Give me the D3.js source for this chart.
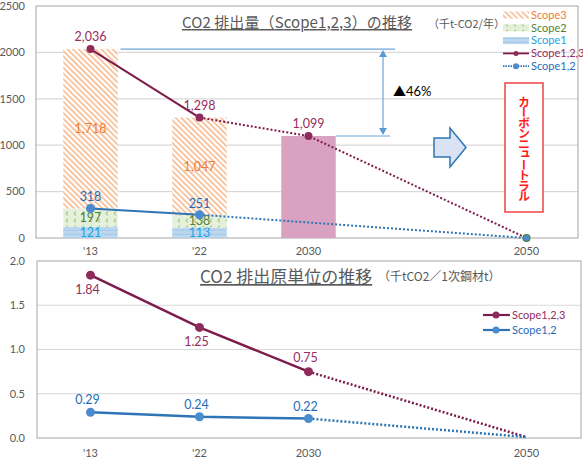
<!DOCTYPE html>
<html>
<head>
<meta charset="utf-8">
<script src="https://d3js.org/d3.v7.min.js"></script>
<style>
body { margin: 0; background: #fff; }
text { font-family: Lato, "Noto Sans CJK JP", sans-serif; }
.jp { font-family: "Noto Sans CJK JP", sans-serif; }
.tick { fill: #595959; font-size: 11px; }
</style>
</head>
<body>
<svg id="chart" width="583" height="459"></svg>
<script>
// emissions, 千t-CO2/年
var years = ["2013", "2022", "2030", "2040", "2050"];
var tickLabels = ["'13", "'22", "2030", "", "2050"];
var barYears = ["2013", "2022"];
var scope1 = [121, 113];
var scope2 = [197, 138];
var scope3 = [1718, 1047];
var target2030 = 1099;
var totalYears = ["2013", "2022", "2030", "2050"];
var total123 = [2036, 1298, 1099, 0];
var total12Years = ["2013", "2022", "2050"];
var total12 = [318, 251, 0];
var emissionTicks = [0, 500, 1000, 1500, 2000, 2500];

// intensity, 千tCO2／1次鋼材t
var intYears = ["2013", "2022", "2030", "2050"];
var intensity123 = [1.84, 1.25, 0.75, 0.01];
var intensity12 = [0.29, 0.24, 0.22, 0.01];
var intensityTicks = [0, 0.5, 1.0, 1.5, 2.0];

var MAROON = "#7d1b4b", MAROON_PT = "#8e2a5c", MAROON_TXT = "#962c60";
var BLUE = "#2e75b6", BLUE_PT = "#4a8bcd", BLUE_TXT = "#1f6cba";

var svg = d3.select("#chart");
var defs = svg.append("defs");

// bar fill patterns
var p3 = defs.append("pattern").attr("id", "hatch3").attr("width", 4).attr("height", 4)
  .attr("patternUnits", "userSpaceOnUse").attr("patternTransform", "rotate(-45)");
p3.append("rect").attr("width", 4).attr("height", 4).attr("fill", "#fff");
p3.append("rect").attr("width", 1.6).attr("height", 4).attr("fill", "#f6b98e");

var p2 = defs.append("pattern").attr("id", "hatch2").attr("width", 8).attr("height", 7)
  .attr("patternUnits", "userSpaceOnUse");
p2.append("rect").attr("width", 8).attr("height", 7).attr("fill", "#e6f1dc");
p2.append("path").attr("d", "M4,1.5 L2,3.5 L4,5.5").attr("fill", "none")
  .attr("stroke", "#a9d18e").attr("stroke-width", 1.2);

var p1 = defs.append("pattern").attr("id", "hatch1").attr("width", 6).attr("height", 4)
  .attr("patternUnits", "userSpaceOnUse");
p1.append("rect").attr("width", 6).attr("height", 4).attr("fill", "#bdd7ee");
p1.append("path").attr("d", "M0,3 L1.5,1.5 L3,3 L4.5,1.5 L6,3").attr("fill", "none")
  .attr("stroke", "#9dc3e6").attr("stroke-width", 0.9);

function drawLine(g, xs, ys, pts, solidTo, color, width) {
  var line = d3.line().x(function(d) { return xs(d[0]); }).y(function(d) { return ys(d[1]); });
  g.append("path").attr("d", line(pts.slice(0, solidTo + 1)))
    .attr("fill", "none").attr("stroke", color).attr("stroke-width", width);
  g.append("path").attr("d", line(pts.slice(solidTo)))
    .attr("fill", "none").attr("stroke", color).attr("stroke-width", width)
    .attr("stroke-dasharray", "2,2");
}

function zip(a, b) { return a.map(function(d, i) { return [d, b[i]]; }); }

/* ---------------- top chart ---------------- */
var x = d3.scaleBand().domain(years).range([36, 581]).paddingInner(0.5).paddingOuter(0.25);
var cx = function(d) { return x(d) + x.bandwidth() / 2; };
var y = d3.scaleLinear().domain([0, 2500]).range([238, 6]);
var gTop = svg.append("g");

gTop.selectAll(".grid").data(emissionTicks.slice(1, -1)).enter().append("line")
  .attr("x1", 36).attr("x2", 578).attr("y1", function(d) { return y(d); }).attr("y2", function(d) { return y(d); })
  .attr("stroke", "#d9d9d9").attr("stroke-width", 1.2);
gTop.append("rect").attr("x", 36).attr("y", 6).attr("width", 542).attr("height", 232)
  .attr("fill", "none").attr("stroke", "#a6a6a6");
gTop.selectAll(".yl").data(emissionTicks).enter().append("text").attr("class", "tick")
  .attr("x", 25).attr("y", function(d) { return y(d); }).attr("dy", "0.35em").attr("text-anchor", "end")
  .text(function(d) { return d; });
gTop.selectAll(".xl").data(years).enter().append("text").attr("class", "tick")
  .attr("x", cx).attr("y", 255).attr("text-anchor", "middle")
  .text(function(d, i) { return tickLabels[i]; });

// stacked bars
var rows = barYears.map(function(yr, i) { return { year: yr, s1: scope1[i], s2: scope2[i], s3: scope3[i] }; });
var stack = d3.stack().keys(["s1", "s2", "s3"])(rows);
var fills = { s1: "url(#hatch1)", s2: "url(#hatch2)", s3: "url(#hatch3)" };
var valColors = { s1: "#1aa3e8", s2: "#548235", s3: "#ed7d31" };
stack.forEach(function(layer) {
  gTop.selectAll(".b" + layer.key).data(layer).enter().append("rect")
    .attr("x", function(d) { return x(d.data.year); }).attr("width", x.bandwidth())
    .attr("y", function(d) { return y(d[1]); }).attr("height", function(d) { return y(d[0]) - y(d[1]); })
    .attr("fill", fills[layer.key]);
  gTop.selectAll(".v" + layer.key).data(layer).enter().append("text")
    .attr("x", function(d) { return cx(d.data.year); }).attr("y", function(d) { return y((d[0] + d[1]) / 2); })
    .attr("dy", "0.35em").attr("text-anchor", "middle").attr("font-size", 12.5)
    .attr("fill", valColors[layer.key]).text(function(d) { return d3.format(",")(d[1] - d[0]); });
});
gTop.append("rect").attr("x", x("2030")).attr("width", x.bandwidth())
  .attr("y", y(target2030)).attr("height", y(0) - y(target2030)).attr("fill", "#d9a2c0");

// reduction annotation
var ann = gTop.append("g").attr("stroke", "#6fa3d8").attr("stroke-width", 1.2);
ann.append("line").attr("x1", cx("2013") + 30).attr("x2", 395).attr("y1", y(total123[0])).attr("y2", y(total123[0]));
ann.append("line").attr("x1", x("2030") + x.bandwidth()).attr("x2", 390).attr("y1", y(target2030)).attr("y2", y(target2030));
ann.append("line").attr("x1", 383).attr("x2", 383).attr("y1", y(total123[0]) + 6).attr("y2", y(target2030) - 6);
gTop.append("path").attr("fill", "#5b9bd5")
  .attr("d", "M383," + (y(total123[0]) + 1) + " l-4,7 l8,0 z M383," + (y(target2030) - 1) + " l-4,-7 l8,0 z");
gTop.append("text").attr("x", 393).attr("y", 96).attr("font-size", 13).attr("fill", "#000").text("▲46%");

// block arrow
gTop.append("path").attr("d", "M434,138 L450,138 L450,128 L466,147.5 L450,167 L450,157 L434,157 Z")
  .attr("fill", "#dae3f3").attr("stroke", "#2e75b6").attr("stroke-width", 1.5);

// carbon neutral box
gTop.append("rect").attr("x", 505).attr("y", 83).attr("width", 38).attr("height", 129)
  .attr("fill", "#fff").attr("stroke", "#ee4444").attr("stroke-width", 1.5);
gTop.append("text").attr("class", "jp").attr("x", 524).attr("y", 96)
  .attr("writing-mode", "vertical-rl").attr("font-size", 12).attr("font-weight", "bold")
  .attr("fill", "#ff1a1a").attr("letter-spacing", -1.5).text("カーボンニュートラル");

// total lines
drawLine(gTop, cx, y, zip(totalYears, total123), 1, MAROON, 2);
drawLine(gTop, cx, y, zip(total12Years, total12), 1, BLUE, 2);
gTop.selectAll(".m123").data(zip(totalYears, total123).slice(0, 3)).enter().append("circle")
  .attr("cx", function(d) { return cx(d[0]); }).attr("cy", function(d) { return y(d[1]); })
  .attr("r", 4).attr("fill", MAROON_PT);
gTop.selectAll(".m12").data(zip(total12Years, total12).slice(0, 2)).enter().append("circle")
  .attr("cx", function(d) { return cx(d[0]); }).attr("cy", function(d) { return y(d[1]); })
  .attr("r", 4.5).attr("fill", BLUE_PT);
gTop.append("circle").attr("cx", cx("2050")).attr("cy", y(0)).attr("r", 3.5)
  .attr("fill", BLUE_PT).attr("stroke", "#548235").attr("stroke-width", 1.2);
gTop.selectAll(".l123").data(zip(totalYears, total123).slice(0, 3)).enter().append("text")
  .attr("x", function(d) { return cx(d[0]); }).attr("y", function(d) { return y(d[1]) - 8; })
  .attr("text-anchor", "middle").attr("font-size", 12.5).attr("fill", MAROON_TXT)
  .text(function(d) { return d3.format(",")(d[1]); });
gTop.selectAll(".l12").data(zip(total12Years, total12).slice(0, 2)).enter().append("text")
  .attr("x", function(d) { return cx(d[0]); }).attr("y", function(d) { return y(d[1]) - 7; })
  .attr("text-anchor", "middle").attr("font-size", 12.5).attr("fill", BLUE_TXT)
  .text(function(d) { return d[1]; });

// title
gTop.append("text").attr("class", "jp").attr("x", 182).attr("y", 28).attr("font-size", 15)
  .attr("textLength", 230).attr("lengthAdjust", "spacing")
  .attr("fill", "#595959").attr("text-decoration", "underline").text("CO2 排出量（Scope1,2,3）の推移");
gTop.append("text").attr("class", "jp").attr("x", 428).attr("y", 28).attr("font-size", 11)
  .attr("fill", "#595959").text("（千t-CO2/年）");

// legend
var legTop = gTop.append("g").attr("font-size", 11);
var legItems = [
  { name: "Scope3", fill: "url(#hatch3)", color: "#ed7d31" },
  { name: "Scope2", fill: "url(#hatch2)", color: "#548235" },
  { name: "Scope1", fill: "url(#hatch1)", color: "#1aa3e8" },
  { name: "Scope1,2,3", line: MAROON, pt: MAROON_PT, color: MAROON_TXT, r: 2.5 },
  { name: "Scope1,2", line: BLUE, pt: BLUE_PT, color: BLUE_TXT, r: 3, dash: "1.5,1" }
];
legItems.forEach(function(d, i) {
  var ly = 15 + i * 12.8;
  if (d.fill) {
    legTop.append("rect").attr("x", 503).attr("y", ly - 3.5).attr("width", 26).attr("height", 7).attr("fill", d.fill);
  } else {
    legTop.append("line").attr("x1", 503).attr("x2", 529).attr("y1", ly).attr("y2", ly)
      .attr("stroke", d.line).attr("stroke-width", 1.8).attr("stroke-dasharray", d.dash || null);
    legTop.append("circle").attr("cx", 516).attr("cy", ly).attr("r", d.r).attr("fill", d.pt);
  }
  legTop.append("text").attr("x", 531).attr("y", ly).attr("dy", "0.35em").attr("fill", d.color).text(d.name);
});

/* ---------------- bottom chart ---------------- */
var y2 = d3.scaleLinear().domain([0, 2]).range([438, 261]);
var gBot = svg.append("g");
gBot.selectAll(".grid").data(intensityTicks.slice(1, -1)).enter().append("line")
  .attr("x1", 37).attr("x2", 581).attr("y1", function(d) { return y2(d); }).attr("y2", function(d) { return y2(d); })
  .attr("stroke", "#d9d9d9").attr("stroke-width", 1.2);
gBot.append("rect").attr("x", 37).attr("y", 261).attr("width", 544).attr("height", 177)
  .attr("fill", "none").attr("stroke", "#a6a6a6");
gBot.selectAll(".yl").data(intensityTicks).enter().append("text").attr("class", "tick")
  .attr("x", 25).attr("y", function(d) { return y2(d); }).attr("dy", "0.35em").attr("text-anchor", "end")
  .text(function(d) { return d3.format(".1f")(d); });
gBot.selectAll(".xl").data(years).enter().append("text").attr("class", "tick")
  .attr("x", cx).attr("y", 457).attr("text-anchor", "middle")
  .text(function(d, i) { return tickLabels[i]; });

drawLine(gBot, cx, y2, zip(intYears, intensity123), 2, MAROON, 2.5);
drawLine(gBot, cx, y2, zip(intYears, intensity12), 2, BLUE, 2.5);
gBot.selectAll(".m123").data(zip(intYears, intensity123).slice(0, 3)).enter().append("circle")
  .attr("cx", function(d) { return cx(d[0]); }).attr("cy", function(d) { return y2(d[1]); })
  .attr("r", 4.5).attr("fill", MAROON_PT);
gBot.selectAll(".m12").data(zip(intYears, intensity12).slice(0, 3)).enter().append("circle")
  .attr("cx", function(d) { return cx(d[0]); }).attr("cy", function(d) { return y2(d[1]); })
  .attr("r", 4.5).attr("fill", BLUE_PT);
// 1.84 and 1.25 sit below their points, 0.75 above
gBot.selectAll(".l123").data(zip(intYears, intensity123).slice(0, 3)).enter().append("text")
  .attr("x", function(d) { return cx(d[0]) - 3; })
  .attr("y", function(d, i) { return y2(d[1]) + (i < 2 ? 19 : -10); })
  .attr("text-anchor", "middle").attr("font-size", 12.5).attr("fill", MAROON_TXT)
  .text(function(d) { return d3.format(".2f")(d[1]); });
gBot.selectAll(".l12").data(zip(intYears, intensity12).slice(0, 3)).enter().append("text")
  .attr("x", function(d) { return cx(d[0]) - 3; }).attr("y", function(d) { return y2(d[1]) - 8; })
  .attr("text-anchor", "middle").attr("font-size", 12.5).attr("fill", BLUE_TXT)
  .text(function(d) { return d3.format(".2f")(d[1]); });

gBot.append("text").attr("class", "jp").attr("x", 200).attr("y", 283).attr("font-size", 17)
  .attr("fill", "#595959").attr("text-decoration", "underline").text("CO2 排出原単位の推移");
gBot.append("text").attr("class", "jp").attr("x", 378).attr("y", 281).attr("font-size", 12)
  .attr("fill", "#595959").text("（千tCO2／1次鋼材t）");

var legBot = gBot.append("g").attr("font-size", 11);
[{ name: "Scope1,2,3", line: MAROON, pt: MAROON_PT, color: MAROON_TXT },
 { name: "Scope1,2", line: BLUE, pt: BLUE_PT, color: BLUE_TXT }].forEach(function(d, i) {
  var ly = 315 + i * 15;
  legBot.append("line").attr("x1", 483).attr("x2", 510).attr("y1", ly).attr("y2", ly)
    .attr("stroke", d.line).attr("stroke-width", 2.2);
  legBot.append("circle").attr("cx", 496).attr("cy", ly).attr("r", 3.5).attr("fill", d.pt);
  legBot.append("text").attr("x", 512).attr("y", ly).attr("dy", "0.35em").attr("fill", d.color).text(d.name);
});
</script>
</body>
</html>
